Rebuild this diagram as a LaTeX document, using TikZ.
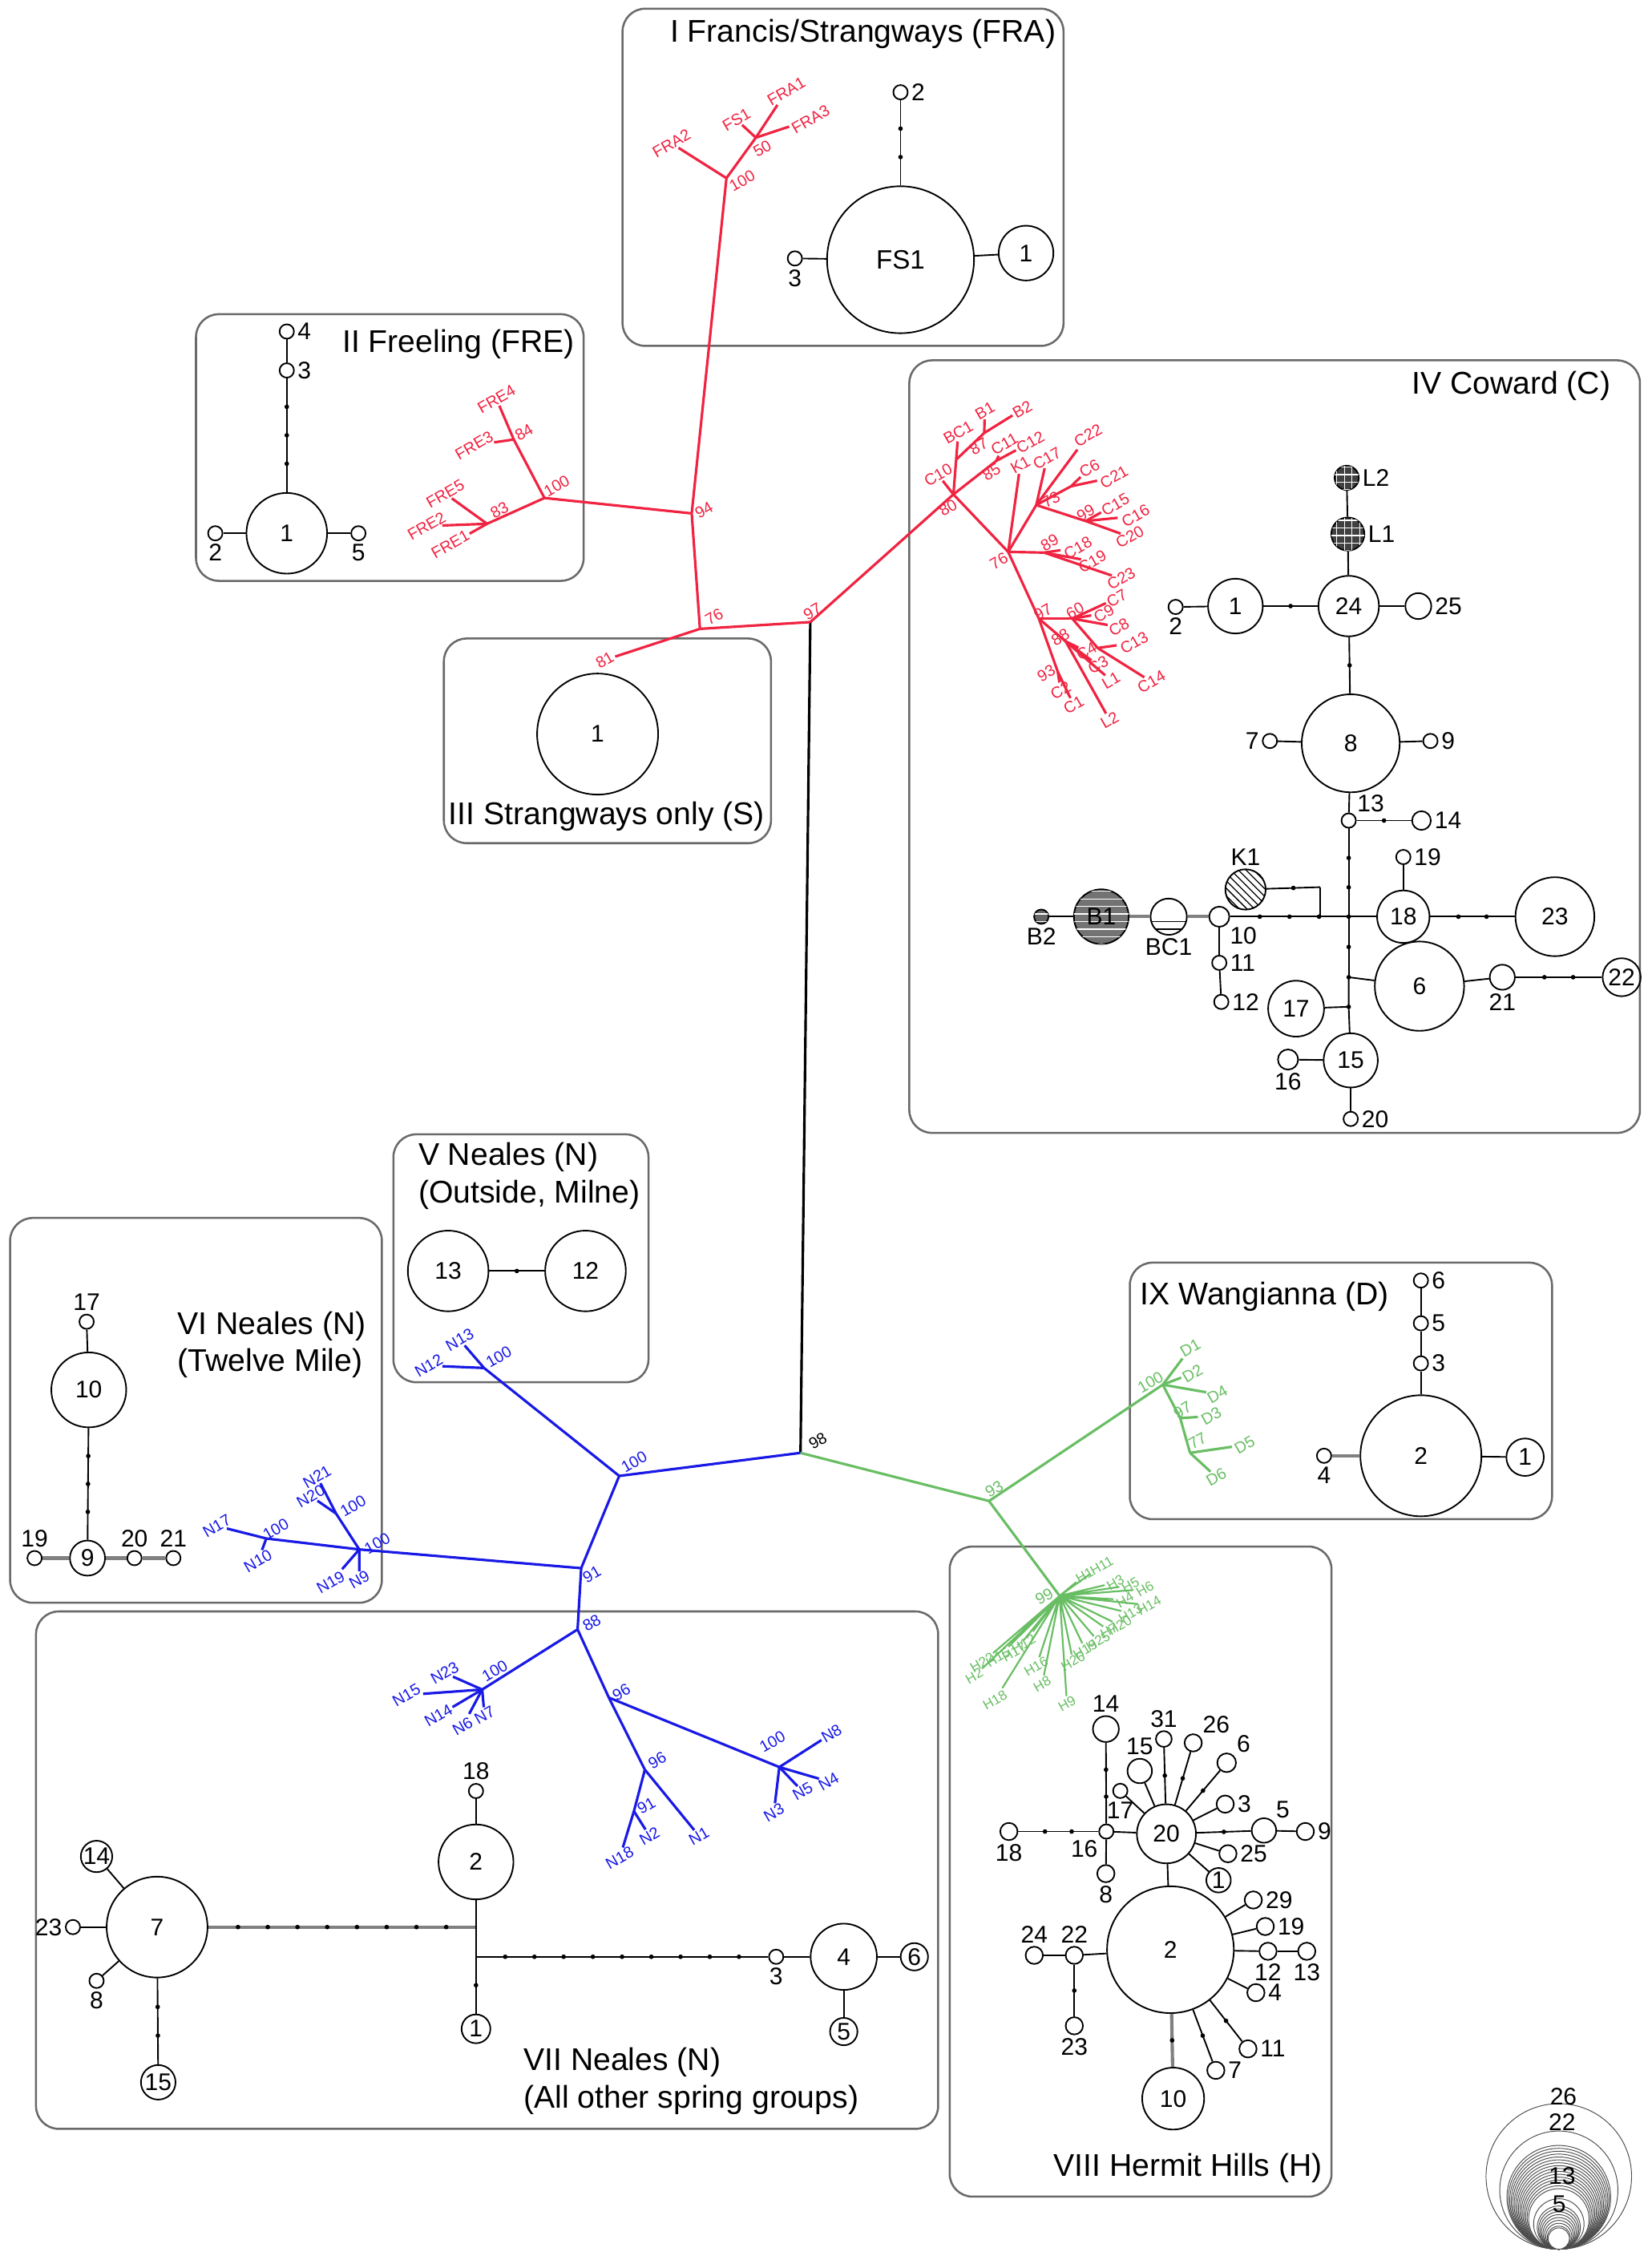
\documentclass[tikz,border=0pt]{standalone}
\usepackage{fontspec}
\setmainfont{Liberation Sans}
\usetikzlibrary{positioning,patterns,decorations.markings}
\definecolor{TreeRed}{RGB}{240,35,65}
\definecolor{TreeBlue}{RGB}{25,25,230}
\definecolor{TreeGreen}{RGB}{105,190,100}
\definecolor{BoxGray}{RGB}{105,105,105}
\tikzset{
	grp/.style={draw=BoxGray,line width=0.8pt,rounded corners=9pt},
	title/.style={font=\fontsize{12.4}{14.8}\selectfont,inner sep=0pt,align=left},
	hap/.style={circle,draw=black,line width=0.6pt,inner sep=0pt,minimum size=#1*0.04cm,font=\fontsize{9.5}{11}\selectfont},
	sm/.style={circle,draw=black,line width=0.6pt,fill=white,inner sep=0pt,minimum size=0.2cm},
	num/.style={font=\fontsize{9.5}{11}\selectfont,inner sep=1pt},
	edge/.style={draw=black,line width=0.6pt},
	gedge/.style={draw=black!50,line width=1.3pt},
	mut1/.style={postaction={decorate,decoration={markings,mark=at position 0.5 with {\fill (0,0) circle (0.9pt);}}}},
	mut2/.style={postaction={decorate,decoration={markings,mark=between positions 0.3333 and 0.67 step 0.3333 with {\fill (0,0) circle (0.9pt);}}}},
	mut3/.style={postaction={decorate,decoration={markings,mark=between positions 0.25 and 0.76 step 0.25 with {\fill (0,0) circle (0.9pt);}}}},
	mut8/.style={postaction={decorate,decoration={markings,mark=between positions 0.1111 and 0.9 step 0.1111 with {\fill (0,0) circle (0.9pt);}}}},
	mut9/.style={postaction={decorate,decoration={markings,mark=between positions 0.1 and 0.91 step 0.1 with {\fill (0,0) circle (0.9pt);}}}},
	rb/.style={draw=TreeRed,line width=1pt},
	bb/.style={draw=TreeBlue,line width=1pt},
	gb/.style={draw=TreeGreen,line width=1pt},
	tl/.style={font=\fontsize{6.3}{7}\selectfont,inner sep=0.5pt,rotate=30},
	rl/.style={tl,text=TreeRed},
	bl/.style={tl,text=TreeBlue},
	gl/.style={tl,text=TreeGreen},
	hl/.style={gl,font=\fontsize{5.4}{6}\selectfont},
	legc/.style={draw=black!70,line width=0.3pt},
}

\begin{document}
\begin{tikzpicture}[x=0.02cm,y=-0.02cm]
	\useasboundingbox (0,0) rectangle (1146,1568);

	% group frames
	\draw[grp] (432,6) rectangle (738,240);
	\draw[grp] (136,218) rectangle (405,403);
	\draw[grp] (308,443) rectangle (535,585);
	\draw[grp] (631,250) rectangle (1138,786);
	\draw[grp] (273,787) rectangle (450,959);
	\draw[grp] (7,845) rectangle (265,1112);
	\draw[grp] (25,1118) rectangle (651,1477);
	\draw[grp] (659,1073) rectangle (924,1524);
	\draw[grp] (784,876) rectangle (1077,1054);

	\node[title,anchor=east] (tI) at (733,23.5) {I Francis/Strangways (FRA)};
	\node[title,anchor=east] (tII) at (399,239) {II Freeling (FRE)};
	\node[title] (tIII) at (421,566.5) {III Strangways only (S)};
	\node[title,anchor=east] (tIV) at (1118,268) {IV Coward (C)};
	\node[title,anchor=west] (tV) at (290,816) {V Neales (N)\\(Outside, Milne)};
	\node[title,anchor=west] (tVI) at (123,933) {VI Neales (N)\\(Twelve Mile)};
	\node[title,anchor=west] (tVII) at (363,1444) {VII Neales (N)\\(All other spring groups)};
	\node[title,anchor=east] (tVIII) at (918,1504) {VIII Hermit Hills (H)};
	\node[title,anchor=west] (tIX) at (791,899.5) {IX Wangianna (D)};

	% I Francis/Strangways network
	\node[hap=51,font=\fontsize{10.5}{12}\selectfont] (fs1) at (624.9,180.2) {FS1};
	\node[hap=19] (fa1) at (712,175.6) {1};
	\node[sm,label={[num]right:2}] (fa2) at (624.9,64) {};
	\node[sm,label={[num]below:3}] (fa3) at (551.6,179.3) {};
	\draw[edge] (fs1) -- (fa1);
	\draw[edge] (fa3) -- (fs1);
	\draw[edge,mut2] (fs1) -- (fa2);

	% II Freeling network
	\node[hap=28] (e1) at (199,370) {1};
	\node[sm,label={[num]below:2}] (e2) at (149.4,370) {};
	\node[sm,label={[num]below:5}] (e5) at (248.7,370) {};
	\node[sm,label={[num]right:3}] (e3) at (199,257) {};
	\node[sm,label={[num]right:4}] (e4) at (199,230) {};
	\draw[edge] (e2) -- (e1);
	\draw[edge] (e1) -- (e5);
	\draw[edge] (e4) -- (e3);
	\draw[edge,mut3] (e1) -- (e3);

	% III Strangways
	\node[hap=42] (s1) at (414.7,509.3) {1};

	% V Neales (Outside, Milne)
	\node[hap=28] (o13) at (311,881.8) {13};
	\node[hap=28] (o12) at (406.3,881.8) {12};
	\draw[edge,mut1] (o13) -- (o12);

	% VI Neales (Twelve Mile)
	\node[hap=26] (w10) at (61.6,964.3) {10};
	\node[sm,label={[num]above:17}] (w17) at (60.1,917) {};
	\node[hap=12.2] (w9) at (60.7,1081) {9};
	\node[sm,label={[num]above:19}] (w19) at (24,1081) {};
	\node[sm,label={[num]above:20}] (w20) at (93.3,1081) {};
	\node[sm,label={[num]above:21}] (w21) at (120.3,1081) {};
	\draw[edge] (w17) -- (w10);
	\draw[edge,mut3] (w10) -- (w9);
	\draw[gedge] (w19) -- (w9);
	\draw[gedge] (w9) -- (w20);
	\draw[gedge] (w20) -- (w21);

	% VII Neales (all other spring groups)
	\node[hap=35] (n7) at (109,1337) {7};
	\node[hap=9.5] (n14) at (67,1288) {14};
	\node[sm,label={[num]left:23}] (n23) at (50.6,1337) {};
	\node[sm,label={[num]below:8}] (n8) at (67,1374.3) {};
	\node[hap=12] (n15) at (109.8,1444.7) {15};
	\node[hap=26] (n2) at (330.3,1291.8) {2};
	\node[sm,label={[num]above:18}] (n18) at (330.3,1242.6) {};
	\node[hap=10] (n1) at (330.3,1407.6) {1};
	\coordinate (nA) at (330.3,1337);
	\coordinate (nB) at (330.3,1357.6);
	\node[sm,label={[num]below:3}] (n3) at (538.6,1357.6) {};
	\node[hap=23] (n4) at (585.5,1357.6) {4};
	\node[hap=9.5] (n6) at (634.5,1357.6) {6};
	\node[hap=9.5] (n5) at (585.5,1409.5) {5};
	\draw[edge] (n7) -- (n14);
	\draw[edge] (n23) -- (n7);
	\draw[edge] (n7) -- (n8);
	\draw[edge,mut2] (n7) -- (n15);
	\draw[gedge,mut8] (n7) -- (nA);
	\draw[edge] (n18) -- (n2);
	\draw[edge] (n2) -- (nA) -- (nB);
	\draw[edge,mut1] (nB) -- (n1);
	\draw[edge,mut9] (nB) -- (n3);
	\draw[edge] (n3) -- (n4);
	\draw[edge] (n4) -- (n6);
	\draw[edge] (n4) -- (n5);

	% IV Coward network
	\node[hap=8.4,fill=black!75,postaction={pattern=grid,pattern color=white},label={[num]right:L2}] (cL2) at (934.5,331.5) {};
	\node[hap=11.5,fill=black!75,postaction={pattern=grid,pattern color=white},label={[num]right:L1}] (cL1) at (935.3,370.5) {};
	\node[hap=21] (c24) at (935.9,420.5) {24};
	\node[hap=19] (c1) at (857.3,420.5) {1};
	\node[sm,label={[num]below:2}] (c2) at (815.8,421.1) {};
	\node[hap=9,label={[num]right:25}] (c25) at (984.2,420.5) {};
	\node[hap=34] (c8) at (937.3,515.7) {8};
	\node[sm,label={[num]left:7}] (c7) at (881.2,514.1) {};
	\node[sm,label={[num]right:9}] (c9) at (992.6,514.1) {};
	\node[sm,label={[num]above right:13}] (c13) at (935.9,569.3) {};
	\node[hap=6.5,label={[num]right:14}] (c14) at (986.4,569.3) {};
	\coordinate (cJ) at (935.9,636);
	\coordinate (cJ6) at (935.9,678);
	\coordinate (cJ17) at (935.9,698.5);
	\node[hap=18.2] (c18) at (973.8,636) {18};
	\node[sm,label={[num]right:19}] (c19) at (973.8,594.6) {};
	\node[hap=27.4] (c23) at (1079,636) {23};
	\node[hap=31] (c6) at (985,684.2) {6};
	\node[hap=8.7,label={[num]below:21}] (c21) at (1042.5,678) {};
	\node[hap=13.2] (c22) at (1125.3,678) {22};
	\node[hap=19.4] (c17) at (899.4,699.8) {17};
	\node[hap=18.8] (c15) at (937.3,735.7) {15};
	\node[hap=7,label={[num]below:16}] (c16) at (893.8,735.1) {};
	\node[sm,label={[num]right:20}] (c20) at (937.3,776.3) {};
	\node[hap=7,label={[num]below right:10}] (c10) at (846.1,636) {};
	\node[hap=14,pattern=north west lines,label={[num]above:K1}] (cK1) at (864.3,617.1) {};
	\coordinate (cK1a) at (916.2,615.5);
	\coordinate (cK1b) at (916.2,636);
	\node[sm,label={[num]right:11}] (c11) at (846.1,668) {};
	\node[sm,label={[num]right:12}] (c12) at (847.5,695.1) {};
	\node[hap=12.6,label={[num]below:BC1}] (cBC1) at (811,636) {};
	\node[hap=19,fill=black!55,postaction={pattern=horizontal lines,pattern color=white}] (cB1) at (764.2,636) {B1};
	\node[hap=5,fill=black!60,postaction={pattern=horizontal lines,pattern color=white},label={[num]below:B2}] (cB2) at (722.6,636) {};
	\begin{scope}
		\clip (cBC1.center) circle (12.4);
		\fill[pattern=horizontal lines] (797,638) rectangle (825,650);
	\end{scope}
	\draw[edge] (cL2) -- (cL1);
	\draw[edge] (cL1) -- (c24);
	\draw[edge] (c2) -- (c1);
	\draw[edge,mut1] (c1) -- (c24);
	\draw[edge] (c24) -- (c25);
	\draw[edge,mut1] (c24) -- (c8);
	\draw[edge] (c7) -- (c8);
	\draw[edge] (c8) -- (c9);
	\draw[edge] (c8) -- (c13);
	\draw[edge,mut1] (c13) -- (c14);
	\draw[edge,mut2] (c13) -- (cJ);
	\draw[edge,mut1] (cJ) -- (cJ6);
	\draw[edge] (cJ6) -- (cJ17) -- (c15);
	\draw[edge] (cJ) -- (c18);
	\draw[edge] (c19) -- (c18);
	\draw[edge,mut2] (c18) -- (c23);
	\draw[edge] (cJ6) -- (c6);
	\draw[edge] (cJ17) -- (c17);
	\draw[edge] (c6) -- (c21);
	\draw[edge,mut2] (c21) -- (c22);
	\draw[edge] (c16) -- (c15);
	\draw[edge] (c15) -- (c20);
	\draw[edge,mut3] (c10) -- (cJ);
	\draw[edge,mut1] (cK1) -- (cK1a);
	\draw[edge] (cK1a) -- (cK1b);
	\draw[edge] (c10) -- (c11);
	\draw[edge] (c11) -- (c12);
	\draw[gedge] (cBC1) -- (c10);
	\draw[gedge] (cB1) -- (cBC1);
	\draw[edge] (cB2) -- (cB1);
	\fill (cJ) circle (0.9pt);
	\fill (cJ6) circle (0.9pt);
	\fill (cJ17) circle (0.9pt);

	% VIII Hermit Hills network
	\node[hap=20.5] (h20) at (809.4,1272.3) {20};
	\node[hap=44] (h2) at (812.2,1352.7) {2};
	\node[hap=21.5] (h10) at (814.1,1456) {10};
	\node[sm,label={[num]below left:16}] (h16) at (767.7,1270.7) {};
	\node[hap=6,label={[num]below:18}] (h18) at (700.1,1270.7) {};
	\node[hap=9,label={[num]above:14}] (h14) at (767.4,1199.6) {};
	\node[hap=6,label={[num]below:8}] (h8) at (767.4,1299.9) {};
	\node[sm,label={[num]below:17}] (h17) at (777.4,1242.5) {};
	\node[hap=8.5,label={[num]above:15}] (h15) at (790.9,1228.7) {};
	\node[hap=5.5,label={[num]above:31}] (h31) at (807.6,1206.5) {};
	\node[hap=6,label={[num]above right:26}] (h26) at (828,1209.2) {};
	\node[hap=6.5,label={[num]above right:6}] (h6) at (851.2,1223) {};
	\node[hap=6,label={[num]right:3}] (h3) at (850.2,1251.7) {};
	\node[hap=8.5,label={[num]above right:5}] (h5) at (877.1,1270) {};
	\node[hap=6,label={[num]right:9}] (h9) at (905.8,1270.7) {};
	\node[hap=6,label={[num]right:25}] (h25) at (852.1,1286.1) {};
	\node[hap=8.5] (h1) at (845.6,1304.5) {1};
	\node[hap=6,label={[num]right:29}] (h29) at (869.7,1318.2) {};
	\node[hap=6,label={[num]right:19}] (h19) at (878,1336.6) {};
	\node[hap=6,label={[num]below:12}] (h12) at (879.9,1353.8) {};
	\node[hap=6,label={[num]below:13}] (h13) at (906.8,1353.8) {};
	\node[hap=6,label={[num]right:4}] (h4) at (871.5,1382.5) {};
	\node[hap=6,label={[num]right:11}] (h11) at (866,1421.5) {};
	\node[hap=6,label={[num]right:7}] (h7) at (843.7,1436.4) {};
	\node[hap=6,label={[num]above:22}] (h22) at (745.5,1356.6) {};
	\node[hap=6,label={[num]above:24}] (h24) at (717.7,1356.6) {};
	\node[hap=6,label={[num]below:23}] (h23) at (745.5,1405.5) {};
	\draw[edge] (h20) -- (h2);
	\draw[gedge,mut1] (h2) -- (h10);
	\draw[edge] (h16) -- (h20);
	\draw[edge,mut2] (h18) -- (h16);
	\draw[edge,mut2] (h14) -- (h16);
	\draw[edge] (h16) -- (h8);
	\draw[edge] (h17) -- (h20);
	\draw[edge] (h15) -- (h20);
	\draw[edge,mut1] (h31) -- (h20);
	\draw[edge,mut1] (h26) -- (h20);
	\draw[edge,mut1] (h6) -- (h20);
	\draw[edge] (h3) -- (h20);
	\draw[edge,mut1] (h20) -- (h5);
	\draw[edge] (h5) -- (h9);
	\draw[edge] (h20) -- (h25);
	\draw[edge] (h20) -- (h1);
	\draw[edge] (h2) -- (h29);
	\draw[edge] (h2) -- (h19);
	\draw[edge] (h2) -- (h12);
	\draw[edge] (h12) -- (h13);
	\draw[edge] (h2) -- (h4);
	\draw[edge,mut1] (h2) -- (h11);
	\draw[edge,mut1] (h2) -- (h7);
	\draw[edge] (h22) -- (h2);
	\draw[edge] (h24) -- (h22);
	\draw[edge,mut1] (h22) -- (h23);

	% IX Wangianna network
	\node[hap=42] (d2) at (986,1010) {2};
	\node[hap=13] (d1) at (1058.3,1011) {1};
	\node[sm,label={[num]below:4}] (d4) at (918.8,1010) {};
	\node[sm,label={[num]right:3}] (d3) at (986,945.9) {};
	\node[sm,label={[num]right:5}] (d5) at (986,918.1) {};
	\node[sm,label={[num]right:6}] (d6) at (986,888.4) {};
	\draw[edge] (d6) -- (d5);
	\draw[edge] (d5) -- (d3);
	\draw[edge] (d3) -- (d2);
	\draw[gedge] (d4) -- (d2);
	\draw[edge] (d2) -- (d1);

	% tree: backbone
	\coordinate (r97) at (562.3,431.6);
	\coordinate (r76) at (485.7,436.3);
	\coordinate (r94) at (480,356.2);
	\coordinate (n98) at (555.5,1008);
	\draw[draw=black,line width=1pt] (r97) -- (n98);
	\node[tl] (b98) at (567.5,999.7) {98};

	% tree: red (I, II, III, IV)
	\coordinate (ra100) at (504.1,123.6);
	\coordinate (ra50) at (524.5,95.5);
	\coordinate (re100) at (377.8,345.5);
	\coordinate (re84) at (356.5,304.9);
	\coordinate (re83) at (338,363.4);
	\node[rl] (lFRA2) at (466,99.5) {FRA2};
	\node[rl] (lFS1) at (511,83) {FS1};
	\node[rl] (lFRA1) at (545.7,63.4) {FRA1};
	\node[rl] (lFRA3) at (562.5,82.9) {FRA3};
	\node[rl] (bA100) at (515,125.5) {100};
	\node[rl] (bA50) at (529,103) {50};
	\node[rl] (lFRE4) at (344.5,276.8) {FRE4};
	\node[rl] (lFRE3) at (329,309) {FRE3};
	\node[rl] (lFRE5) at (309,342.5) {FRE5};
	\node[rl] (lFRE2) at (296,365) {FRE2};
	\node[rl] (lFRE1) at (312.5,377.8) {FRE1};
	\node[rl] (bE100) at (386.3,337) {100};
	\node[rl] (bE84) at (363.6,300) {84};
	\node[rl] (bE83) at (346.6,353.9) {83};
	\node[rl] (b94) at (488.5,353.9) {94};
	\node[rl] (b76) at (495.6,428) {76};
	\node[rl] (b97) at (563.7,424.4) {97};
	\node[rl] (l81) at (419.7,457.9) {81};
	\draw[rb] (r97) -- (r76);
	\draw[rb] (r76) -- (r94);
	\draw[rb] (r76) -- (l81);
	\draw[rb] (r94) -- (ra100);
	\draw[rb] (ra100) -- (lFRA2);
	\draw[rb] (ra100) -- (ra50);
	\draw[rb] (ra50) -- (lFS1);
	\draw[rb] (ra50) -- (lFRA1);
	\draw[rb] (ra50) -- (lFRA3);
	\draw[rb] (r94) -- (re100);
	\draw[rb] (re100) -- (re84);
	\draw[rb] (re84) -- (lFRE4);
	\draw[rb] (re84) -- (lFRE3);
	\draw[rb] (re100) -- (re83);
	\draw[rb] (re83) -- (lFRE5);
	\draw[rb] (re83) -- (lFRE2);
	\draw[rb] (re83) -- (lFRE1);

	\coordinate (rc80) at (661.6,343);
	\coordinate (rcA) at (663.5,318.9);
	\coordinate (rc87) at (683,300.4);
	\coordinate (rc85) at (691.3,319.8);
	\coordinate (rc76) at (699.6,382.9);
	\coordinate (rc73) at (719.1,350.4);
	\coordinate (rc6) at (743.2,337.4);
	\coordinate (rc99) at (753.4,361.5);
	\coordinate (rc89) at (724.6,383.4);
	\coordinate (rc97) at (720.9,429.2);
	\coordinate (rc60) at (744.1,429.2);
	\coordinate (rc13) at (761.7,449.6);
	\coordinate (rc88) at (739.5,445);
	\coordinate (rc93) at (734,466);
	\node[rl] (lC10) at (651,329.5) {C10};
	\node[rl] (lBC1) at (665,300) {BC1};
	\node[rl] (lB1) at (683.4,285) {B1};
	\node[rl] (lB2) at (709.4,284) {B2};
	\node[rl] (lC11) at (697,308) {C11};
	\node[rl] (lC12) at (715,307) {C12};
	\node[rl] (lK1) at (708,322.5) {K1};
	\node[rl] (lC17) at (726.5,318) {C17};
	\node[rl] (lC22) at (755,302) {C22};
	\node[rl] (lC6) at (756,325) {C6};
	\node[rl] (lC21) at (773,331) {C21};
	\node[rl] (lC15) at (774,350) {C15};
	\node[rl] (lC16) at (788,358) {C16};
	\node[rl] (lC20) at (784,372.5) {C20};
	\node[rl] (lC18) at (748,380) {C18};
	\node[rl] (lC19) at (758,389.5) {C19};
	\node[rl] (lC23) at (778,401.5) {C23};
	\node[rl] (lC7) at (775,415) {C7};
	\node[rl] (lC9) at (766,425.5) {C9};
	\node[rl] (lC8) at (776.5,435) {C8};
	\node[rl] (lC13) at (787,446) {C13};
	\node[rl] (lC14) at (799,473) {C14};
	\node[rl] (lC4) at (754,452) {C4};
	\node[rl] (lC3) at (762,461.5) {C3};
	\node[rl] (lL1) at (771,472) {L1};
	\node[rl] (lL2) at (770,499.5) {L2};
	\node[rl] (lC2) at (736,479) {C2};
	\node[rl] (lC1) at (745,489) {C1};
	\node[rl] (bC80) at (657.9,352.3) {80};
	\node[rl] (bC87) at (679.2,309.6) {87};
	\node[rl] (bC85) at (688,327.5) {85};
	\node[rl] (bC76) at (693.1,389.3) {76};
	\node[rl] (bC73) at (729.3,346.7) {73};
	\node[rl] (bC99) at (753.4,356) {99};
	\node[rl] (bC89) at (728.4,376.4) {89};
	\node[rl] (bC97) at (723.7,424.6) {97};
	\node[rl] (bC60) at (746,423.6) {60};
	\node[rl] (bC88) at (735.8,442) {88};
	\node[rl] (bC93) at (726,467) {93};
	\draw[rb] (r97) -- (rc80);
	\draw[rb] (rc80) -- (lC10);
	\draw[rb] (rc80) -- (rcA);
	\draw[rb] (rcA) -- (lBC1);
	\draw[rb] (rcA) -- (rc87);
	\draw[rb] (rc87) -- (lB1);
	\draw[rb] (rc87) -- (lB2);
	\draw[rb] (rc80) -- (rc85);
	\draw[rb] (rc85) -- (lC11);
	\draw[rb] (rc85) -- (lC12);
	\draw[rb] (rc80) -- (rc76);
	\draw[rb] (rc76) -- (lK1);
	\draw[rb] (rc76) -- (rc73);
	\draw[rb] (rc73) -- (lC17);
	\draw[rb] (rc73) -- (lC22);
	\draw[rb] (rc73) -- (rc6);
	\draw[rb] (rc6) -- (lC6);
	\draw[rb] (rc6) -- (lC21);
	\draw[rb] (rc73) -- (rc99);
	\draw[rb] (rc99) -- (lC15);
	\draw[rb] (rc99) -- (lC16);
	\draw[rb] (rc99) -- (lC20);
	\draw[rb] (rc76) -- (rc89);
	\draw[rb] (rc89) -- (lC18);
	\draw[rb] (rc89) -- (lC19);
	\draw[rb] (rc89) -- (lC23);
	\draw[rb] (rc76) -- (rc97);
	\draw[rb] (rc97) -- (rc60);
	\draw[rb] (rc60) -- (lC7);
	\draw[rb] (rc60) -- (lC9);
	\draw[rb] (rc60) -- (lC8);
	\draw[rb] (rc60) -- (rc13);
	\draw[rb] (rc13) -- (lC13);
	\draw[rb] (rc13) -- (lC14);
	\draw[rb] (rc97) -- (rc88);
	\draw[rb] (rc88) -- (lC4);
	\draw[rb] (rc88) -- (lC3);
	\draw[rb] (rc88) -- (lL1);
	\draw[rb] (rc88) -- (lL2);
	\draw[rb] (rc97) -- (rc93);
	\draw[rb] (rc93) -- (lC2);
	\draw[rb] (rc93) -- (lC1);

	% tree: blue (V, VI, VII)
	\coordinate (bv100) at (429.7,1024);
	\coordinate (bv100a) at (335.9,949.1);
	\coordinate (bv91) at (403.3,1088);
	\coordinate (bw100) at (249.3,1075);
	\coordinate (bw100a) at (184.8,1067.4);
	\coordinate (bw100b) at (233.2,1050.1);
	\coordinate (bn88) at (400.8,1130.5);
	\coordinate (bn100) at (334.6,1172.2);
	\coordinate (bn96) at (422.5,1177.8);
	\coordinate (bn100a) at (540.8,1226);
	\coordinate (bn96a) at (447.5,1227.8);
	\coordinate (bn91) at (439.9,1256.6);
	\node[bl] (lN13) at (319,929.5) {N13};
	\node[bl] (lN12) at (297.5,947.5) {N12};
	\node[bl] (lN17) at (150.4,1058.7) {N17};
	\node[bl] (lN10) at (179,1083) {N10};
	\node[bl] (lN21) at (220,1024.5) {N21};
	\node[bl] (lN20) at (215.6,1038) {N20};
	\node[bl] (lN19) at (229.5,1097.8) {N19};
	\node[bl] (lN9) at (249.3,1096) {N9};
	\node[bl] (lN23) at (308.5,1160.7) {N23};
	\node[bl] (lN15) at (282,1176) {N15};
	\node[bl] (lN14) at (304.2,1190.2) {N14};
	\node[bl] (lN6) at (321,1197.7) {N6};
	\node[bl] (lN7) at (336.2,1190) {N7};
	\node[bl] (lN8) at (577,1202.8) {N8};
	\node[bl] (lN4) at (575,1236) {N4};
	\node[bl] (lN5) at (557,1243) {N5};
	\node[bl] (lN3) at (537,1257.5) {N3};
	\node[bl] (lN1) at (485,1273.7) {N1};
	\node[bl] (lN2) at (450.7,1273.7) {N2};
	\node[bl] (lN18) at (430,1289) {N18};
	\node[bl] (bV100) at (440,1014.2) {100};
	\node[bl] (bV100a) at (346.1,941.5) {100};
	\node[bl] (bV91) at (410.7,1092.4) {91};
	\node[bl] (bW100) at (261.8,1070.7) {100};
	\node[bl] (bW100a) at (191.4,1061) {100};
	\node[bl] (bW100b) at (245,1045) {100};
	\node[bl] (bN88) at (410.6,1125.9) {88};
	\node[bl] (bN100) at (343.3,1159.2) {100};
	\node[bl] (bN96) at (431.2,1174) {96};
	\node[bl] (bN100a) at (536,1208.4) {100};
	\node[bl] (bN96a) at (456.1,1221.3) {96};
	\node[bl] (bN91) at (448.5,1252.9) {91};
	\draw[bb] (n98) -- (bv100);
	\draw[bb] (bv100) -- (bv100a);
	\draw[bb] (bv100a) -- (lN13);
	\draw[bb] (bv100a) -- (lN12);
	\draw[bb] (bv100) -- (bv91);
	\draw[bb] (bv91) -- (bw100);
	\draw[bb] (bw100) -- (bw100a);
	\draw[bb] (bw100a) -- (lN17);
	\draw[bb] (bw100a) -- (lN10);
	\draw[bb] (bw100) -- (bw100b);
	\draw[bb] (bw100b) -- (lN21);
	\draw[bb] (bw100b) -- (lN20);
	\draw[bb] (bw100) -- (lN19);
	\draw[bb] (bw100) -- (lN9);
	\draw[bb] (bv91) -- (bn88);
	\draw[bb] (bn88) -- (bn100);
	\draw[bb] (bn100) -- (lN23);
	\draw[bb] (bn100) -- (lN15);
	\draw[bb] (bn100) -- (lN14);
	\draw[bb] (bn100) -- (lN6);
	\draw[bb] (bn100) -- (lN7);
	\draw[bb] (bn88) -- (bn96);
	\draw[bb] (bn96) -- (bn100a);
	\draw[bb] (bn100a) -- (lN8);
	\draw[bb] (bn100a) -- (lN4);
	\draw[bb] (bn100a) -- (lN5);
	\draw[bb] (bn100a) -- (lN3);
	\draw[bb] (bn96) -- (bn96a);
	\draw[bb] (bn96a) -- (lN1);
	\draw[bb] (bn96a) -- (bn91);
	\draw[bb] (bn91) -- (lN2);
	\draw[bb] (bn91) -- (lN18);

	% tree: green (VIII, IX)
	\coordinate (g93) at (686.3,1041.4);
	\coordinate (gd100) at (806.9,960.7);
	\coordinate (gd97) at (819,983.9);
	\coordinate (gd77) at (825.8,1008);
	\coordinate (gH) at (735.3,1107.2);
	\node[gl] (lD1) at (826,935.3) {D1};
	\node[gl] (lD2) at (827.5,952.8) {D2};
	\node[gl] (lD4) at (844.8,967.3) {D4};
	\node[gl] (lD3) at (840.5,982.5) {D3};
	\node[gl] (lD5) at (863.7,1002.5) {D5};
	\node[gl] (lD6) at (844,1024.7) {D6};
	\node[gl] (bG93) at (689.8,1033.1) {93};
	\node[gl] (bD100) at (798.3,958.9) {100};
	\node[gl] (bD97) at (820.6,978.4) {97};
	\node[gl] (bD77) at (831,999.7) {77};
	\node[gl] (bH99) at (724.6,1107.6) {99};
	\node[hl] (lH1) at (752.5,1093) {H1};
	\node[hl] (lH11) at (764.5,1086.3) {H11};
	\node[hl] (lH3) at (774,1098) {H3};
	\node[hl] (lH5) at (784.5,1099.8) {H5};
	\node[hl] (lH6) at (794.5,1102.5) {H6};
	\node[hl] (lH4) at (780.7,1110) {H4};
	\node[hl] (lH14) at (797.4,1113.7) {H14};
	\node[hl] (lH13) at (784.5,1119.3) {H13};
	\node[hl] (lH20) at (777,1127.6) {H20};
	\node[hl] (lH7) at (769.6,1131.3) {H7};
	\node[hl] (lH25) at (762,1138.7) {H25};
	\node[hl] (lH19) at (753,1144.3) {H19};
	\node[hl] (lH26) at (744.6,1152.6) {H26};
	\node[hl] (lH9) at (740.4,1181.8) {H9};
	\node[hl] (lH8) at (723.2,1168.4) {H8};
	\node[hl] (lH16) at (719,1156.3) {H16};
	\node[hl] (lH18) at (690.4,1179.5) {H18};
	\node[hl] (lH2) at (676,1162.8) {H2};
	\node[hl] (lH22) at (681.5,1153.5) {H22};
	\node[hl] (lH15) at (692.6,1149.8) {H15};
	\node[hl] (lH17) at (703.8,1146.1) {H17};
	\node[hl] (lH12) at (710.3,1140.5) {H12};
	\draw[gb] (n98) -- (g93);
	\draw[gb] (g93) -- (gd100);
	\draw[gb] (gd100) -- (lD1);
	\draw[gb] (gd100) -- (lD2);
	\draw[gb] (gd100) -- (lD4);
	\draw[gb] (gd100) -- (gd97);
	\draw[gb] (gd97) -- (lD3);
	\draw[gb] (gd97) -- (gd77);
	\draw[gb] (gd77) -- (lD5);
	\draw[gb] (gd77) -- (lD6);
	\draw[gb] (g93) -- (gH);
	\draw[gb,line width=0.7pt] (gH) -- (lH1) (gH) -- (lH11) (gH) -- (lH3) (gH) -- (lH5)
		(gH) -- (lH6) (gH) -- (lH4) (gH) -- (lH14) (gH) -- (lH13) (gH) -- (lH20)
		(gH) -- (lH7) (gH) -- (lH25) (gH) -- (lH19) (gH) -- (lH26) (gH) -- (lH9)
		(gH) -- (lH8) (gH) -- (lH16) (gH) -- (lH18) (gH) -- (lH2) (gH) -- (lH22)
		(gH) -- (lH15) (gH) -- (lH17) (gH) -- (lH12);

	% legend of circle sizes
	\draw[legc] (1081.7,1510) circle (50.5);
	\draw[legc] (1081.7,1519.5) circle (41);
	\foreach \r in {21,...,36}
		\draw[legc] (1081.7,{1560.5-\r}) circle (\r);
	\draw[legc] (1081.7,1543) circle (17.5);
	\foreach \r in {8,...,15}
		\draw[legc] (1081.7,{1560.5-\r}) circle (\r);
	\draw[legc,fill=white] (1081.7,1553.1) circle (7.4);
	\node[num] (lg26) at (1084.9,1454.8) {26};
	\node[num] (lg22) at (1084,1472.4) {22};
	\node[num] (lg13) at (1084,1509.5) {13};
	\node[num] (lg5) at (1082,1529) {5};
\end{tikzpicture}
\end{document}
